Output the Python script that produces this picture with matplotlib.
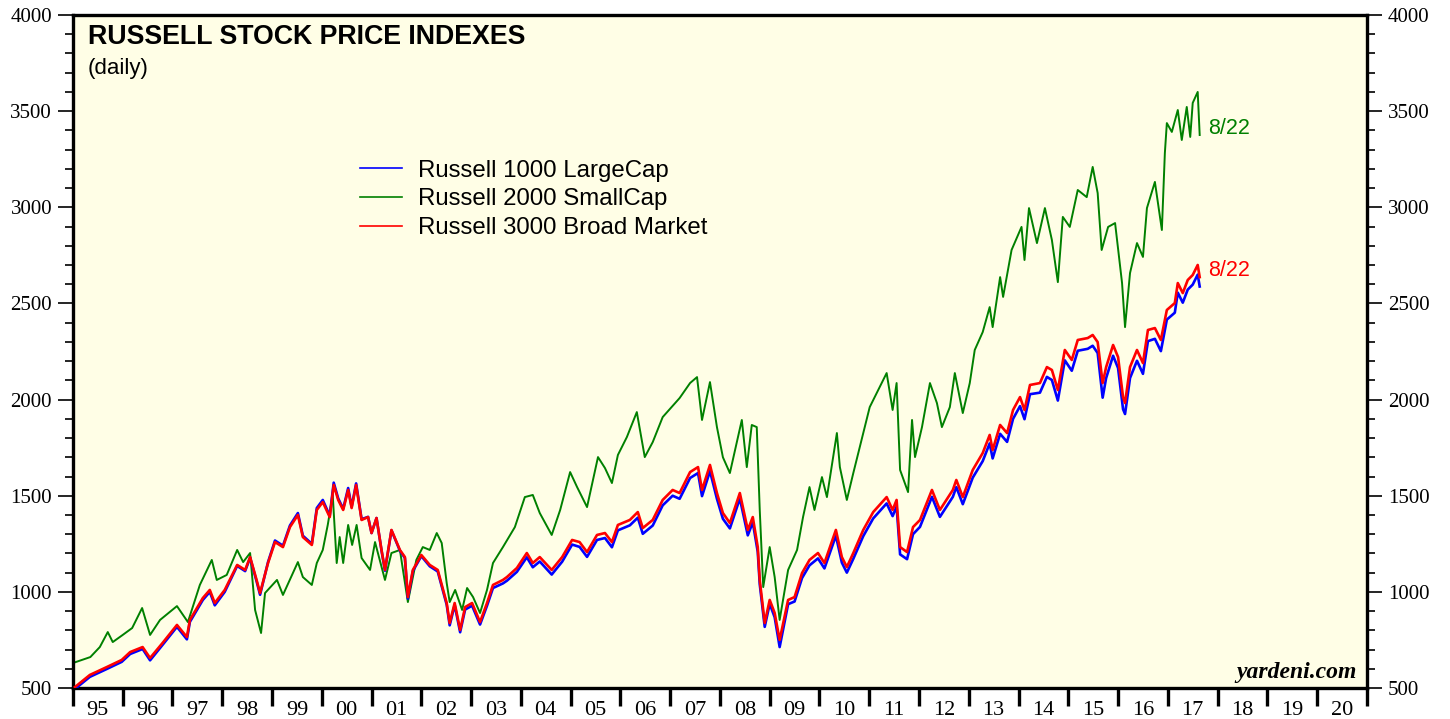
import matplotlib
matplotlib.use("Agg")
import matplotlib.pyplot as plt
from matplotlib.ticker import MultipleLocator, FixedLocator, NullFormatter, FixedFormatter
import numpy as np

plt.rc('font', family='Liberation Sans')

# Russell 2000 SmallCap (year fraction, index)
green_dates = [1995.00, 1995.35, 1995.54, 1995.70, 1995.80, 1996.00, 1996.19, 1996.39, 1996.55, 1996.75,
               1997.09, 1997.31, 1997.55, 1997.79, 1997.89, 1998.09, 1998.30, 1998.42, 1998.56, 1998.66,
               1998.78, 1998.86, 1999.10, 1999.22, 1999.52, 1999.62, 1999.80, 1999.90, 2000.02, 2000.12,
               2000.22, 2000.30, 2000.36, 2000.43, 2000.53, 2000.61, 2000.70, 2000.80, 2000.97, 2001.07,
               2001.27, 2001.40, 2001.57, 2001.73, 2001.90, 2002.03, 2002.17, 2002.31, 2002.41, 2002.51,
               2002.57, 2002.68, 2002.82, 2002.92, 2003.04, 2003.18, 2003.32, 2003.44, 2003.64, 2003.88,
               2004.08, 2004.24, 2004.38, 2004.62, 2004.79, 2004.99, 2005.13, 2005.33, 2005.55, 2005.69,
               2005.83, 2005.95, 2006.13, 2006.33, 2006.49, 2006.65, 2006.85, 2007.03, 2007.19, 2007.40,
               2007.54, 2007.64, 2007.80, 2007.94, 2008.06, 2008.20, 2008.44, 2008.54, 2008.64, 2008.74,
               2008.80, 2008.87, 2009.00, 2009.10, 2009.20, 2009.37, 2009.55, 2009.67, 2009.80, 2009.90,
               2010.05, 2010.15, 2010.35, 2010.41, 2010.55, 2010.68, 2010.81, 2011.01, 2011.15, 2011.35,
               2011.47, 2011.55, 2011.62, 2011.78, 2011.86, 2011.92, 2012.06, 2012.22, 2012.36, 2012.46,
               2012.62, 2012.72, 2012.88, 2013.02, 2013.12, 2013.28, 2013.42, 2013.48, 2013.63, 2013.69,
               2013.86, 2014.06, 2014.12, 2014.21, 2014.37, 2014.53, 2014.67, 2014.79, 2014.89, 2015.03,
               2015.19, 2015.37, 2015.49, 2015.59, 2015.67, 2015.80, 2015.94, 2016.08, 2016.14, 2016.24,
               2016.38, 2016.50, 2016.58, 2016.74, 2016.88, 2016.94, 2016.98, 2017.08, 2017.20, 2017.28,
               2017.38, 2017.45, 2017.50, 2017.60, 2017.64]
green_vals = [630, 661, 713, 791, 739, 776, 812, 916, 776, 854,
              926, 843, 1036, 1166, 1062, 1088, 1218, 1155, 1202, 906,
              786, 994, 1062, 984, 1155, 1077, 1036, 1150, 1218, 1348,
              1504, 1150, 1285, 1150, 1348, 1244, 1348, 1176, 1114, 1259,
              1062, 1202, 1218, 947, 1166, 1233, 1218, 1306, 1254, 1046,
              947, 1010, 906, 1020, 973, 890, 1010, 1150, 1233, 1337,
              1493, 1504, 1410, 1296, 1426, 1623, 1545, 1441, 1701, 1644,
              1566, 1712, 1805, 1935, 1701, 1779, 1909, 1961, 2008, 2086,
              2117, 1894, 2091, 1857, 1700, 1618, 1894, 1649, 1868, 1857,
              1426, 1025, 1233, 1077, 854, 1114, 1218, 1389, 1545, 1426,
              1597, 1493, 1826, 1649, 1478, 1618, 1753, 1961, 2034, 2138,
              1946, 2086, 1634, 1519, 1894, 1701, 1857, 2086, 1982, 1857,
              1961, 2138, 1930, 2086, 2258, 2351, 2481, 2377, 2637, 2534,
              2778, 2898, 2726, 2996, 2814, 2996, 2830, 2611, 2950, 2898,
              3090, 3053, 3210, 3074, 2778, 2898, 2918, 2606, 2377, 2658,
              2814, 2742, 2996, 3132, 2882, 3282, 3438, 3392, 3506, 3350,
              3522, 3366, 3543, 3600, 3376]

# Russell 3000 Broad Market and Russell 1000 LargeCap share the same dates
red_dates = [1995.04, 1995.34, 1995.68, 1995.98, 1996.15, 1996.40, 1996.55, 1996.80, 1997.09, 1997.29,
             1997.35, 1997.61, 1997.75, 1997.85, 1998.05, 1998.30, 1998.46, 1998.56, 1998.69, 1998.76,
             1998.92, 1999.06, 1999.22, 1999.36, 1999.52, 1999.62, 1999.80, 1999.90, 2000.02, 2000.16,
             2000.24, 2000.33, 2000.43, 2000.53, 2000.60, 2000.69, 2000.80, 2000.93, 2001.00, 2001.10,
             2001.20, 2001.27, 2001.40, 2001.57, 2001.67, 2001.73, 2001.83, 2002.00, 2002.17, 2002.33,
             2002.51, 2002.57, 2002.67, 2002.78, 2002.88, 2003.02, 2003.18, 2003.32, 2003.44, 2003.64,
             2003.72, 2003.92, 2004.12, 2004.24, 2004.38, 2004.62, 2004.83, 2005.03, 2005.18, 2005.33,
             2005.53, 2005.69, 2005.83, 2005.95, 2006.19, 2006.35, 2006.45, 2006.65, 2006.85, 2007.05,
             2007.19, 2007.40, 2007.56, 2007.64, 2007.80, 2007.94, 2008.06, 2008.20, 2008.40, 2008.56,
             2008.66, 2008.76, 2008.80, 2008.90, 2009.00, 2009.10, 2009.20, 2009.37, 2009.50, 2009.65,
             2009.80, 2009.97, 2010.10, 2010.33, 2010.45, 2010.55, 2010.68, 2010.88, 2011.08, 2011.35,
             2011.47, 2011.55, 2011.62, 2011.76, 2011.88, 2012.02, 2012.26, 2012.42, 2012.68, 2012.75,
             2012.88, 2013.08, 2013.28, 2013.42, 2013.48, 2013.63, 2013.77, 2013.89, 2014.03, 2014.12,
             2014.23, 2014.43, 2014.57, 2014.67, 2014.79, 2014.93, 2015.07, 2015.19, 2015.39, 2015.49,
             2015.59, 2015.69, 2015.76, 2015.90, 2016.00, 2016.10, 2016.14, 2016.24, 2016.38, 2016.50,
             2016.60, 2016.74, 2016.86, 2016.98, 2017.14, 2017.20, 2017.30, 2017.40, 2017.50, 2017.60,
             2017.64]
red_vals = [505, 568, 609, 646, 687, 713, 656, 734, 828, 765,
            854, 968, 1010, 942, 1010, 1140, 1114, 1181, 1062, 994,
            1150, 1259, 1233, 1337, 1400, 1285, 1244, 1426, 1467, 1389,
            1556, 1478, 1426, 1530, 1436, 1556, 1374, 1389, 1306, 1384,
            1218, 1114, 1322, 1218, 1181, 973, 1114, 1192, 1140, 1114,
            942, 838, 942, 802, 921, 942, 843, 942, 1036, 1062,
            1077, 1124, 1202, 1150, 1181, 1114, 1181, 1270, 1259, 1207,
            1296, 1306, 1259, 1348, 1374, 1415, 1332, 1374, 1478, 1530,
            1514, 1623, 1649, 1530, 1660, 1514, 1410, 1358, 1514, 1322,
            1389, 1233, 1062, 838, 958, 890, 750, 958, 973, 1098,
            1166, 1202, 1150, 1322, 1181, 1129, 1202, 1322, 1415, 1493,
            1426, 1478, 1233, 1207, 1337, 1374, 1530, 1426, 1530, 1582,
            1493, 1634, 1722, 1816, 1738, 1868, 1826, 1946, 2013, 1946,
            2076, 2086, 2169, 2154, 2050, 2258, 2206, 2310, 2320, 2336,
            2299, 2086, 2169, 2284, 2221, 2013, 1982, 2169, 2258, 2190,
            2362, 2372, 2310, 2466, 2502, 2606, 2554, 2622, 2648, 2700,
            2637]
blue_vals = [495, 558, 599, 636, 677, 703, 644, 724, 818, 753,
             844, 958, 1000, 930, 1000, 1135, 1108, 1178, 1055, 985,
             1155, 1267, 1240, 1345, 1410, 1292, 1250, 1436, 1478, 1396,
             1568, 1486, 1432, 1540, 1442, 1564, 1378, 1390, 1306, 1384,
             1216, 1110, 1320, 1214, 1176, 965, 1108, 1186, 1133, 1106,
             933, 826, 932, 790, 908, 928, 830, 928, 1020, 1044,
             1058, 1104, 1180, 1128, 1158, 1090, 1157, 1246, 1234, 1182,
             1270, 1280, 1232, 1320, 1346, 1386, 1302, 1345, 1450, 1500,
             1484, 1592, 1618, 1498, 1628, 1484, 1380, 1330, 1486, 1294,
             1362, 1208, 1040, 818, 938, 868, 713, 936, 950, 1072,
             1138, 1174, 1122, 1292, 1152, 1100, 1172, 1290, 1382, 1460,
             1394, 1444, 1195, 1170, 1300, 1338, 1494, 1390, 1494, 1545,
             1456, 1594, 1680, 1772, 1694, 1822, 1780, 1900, 1966, 1898,
             2028, 2036, 2118, 2102, 1995, 2204, 2150, 2254, 2264, 2280,
             2242, 2010, 2112, 2228, 2164, 1950, 1925, 2112, 2202, 2134,
             2304, 2316, 2252, 2416, 2452, 2556, 2504, 2572, 2598, 2650,
             2588]

years = list(range(1995, 2021))
year_labels = ["%02d" % (y % 100) for y in years]

fig = plt.figure(figsize=(14.5, 7.19), dpi=100)
ax = fig.add_axes([0.0503, 0.0431, 0.8924, 0.936])
ax.set_facecolor('#FFFEE6')

ax.plot(green_dates, green_vals, color='#008000', lw=1.4, label='Russell 2000 SmallCap', zorder=2)
ax.plot(red_dates, blue_vals, color='#0000FF', lw=1.9, label='Russell 1000 LargeCap', zorder=3)
ax.plot(red_dates, red_vals, color='#FF0000', lw=1.9, label='Russell 3000 Broad Market', zorder=4)

ax.set_xlim(1995, 2021)
ax.set_ylim(500, 4000)

for s in ax.spines.values():
    s.set_linewidth(2.4)

# y axis on both sides
ax.yaxis.set_major_locator(MultipleLocator(500))
ax.yaxis.set_minor_locator(MultipleLocator(100))
ax.tick_params(axis='y', which='major', direction='out', length=11, width=1.2,
               labelsize=15, pad=4, left=True, right=True, labelleft=True, labelright=True)
ax.tick_params(axis='y', which='minor', direction='out', length=6, width=1.2,
               left=True, right=True)
for lab in ax.get_yticklabels():
    lab.set_fontfamily('Liberation Serif')

# x axis: ticks at year boundaries, labels centered in each year
ax.xaxis.set_major_locator(FixedLocator(years + [2021]))
ax.xaxis.set_major_formatter(NullFormatter())
ax.xaxis.set_minor_locator(FixedLocator([y + 0.5 for y in years]))
ax.xaxis.set_minor_formatter(FixedFormatter(year_labels))
ax.tick_params(axis='x', which='major', direction='out', length=13, width=2.4)
ax.tick_params(axis='x', which='minor', length=0, labelsize=16, pad=9)
for lab in ax.get_xticklabels(minor=True):
    lab.set_fontfamily('Liberation Serif')

ax.text(0.0116, 0.986, "RUSSELL STOCK PRICE INDEXES", transform=ax.transAxes,
        fontsize=19.3, fontweight='bold', va='top', ha='left')
ax.text(0.0116, 0.936, "(daily)", transform=ax.transAxes,
        fontsize=16, va='top', ha='left')

handles, labels = ax.get_legend_handles_labels()
order = [1, 0, 2]
leg = ax.legend([handles[i] for i in order], [labels[i] for i in order],
                loc='upper left', bbox_to_anchor=(0.2218, 0.785), frameon=False,
                fontsize=17.3, handlelength=1.75, handletextpad=0.65, labelspacing=0.28,
                borderaxespad=0, borderpad=0)
for line in leg.get_lines():
    line.set_linewidth(1.2)

ax.annotate("8/22", xy=(green_dates[-1], green_vals[-1]), xytext=(6, 5),
            textcoords='offset points', color='#008000', fontsize=15.5, va='center')
ax.annotate("8/22", xy=(red_dates[-1], red_vals[-1]), xytext=(6, 5),
            textcoords='offset points', color='#FF0000', fontsize=15.5, va='center')

ax.text(0.9923, 0.0149, "yardeni.com", transform=ax.transAxes, ha='right', va='baseline',
        fontsize=17, fontweight='bold', fontstyle='italic', fontfamily='Liberation Serif')

fig.savefig("out.png", dpi=100)
